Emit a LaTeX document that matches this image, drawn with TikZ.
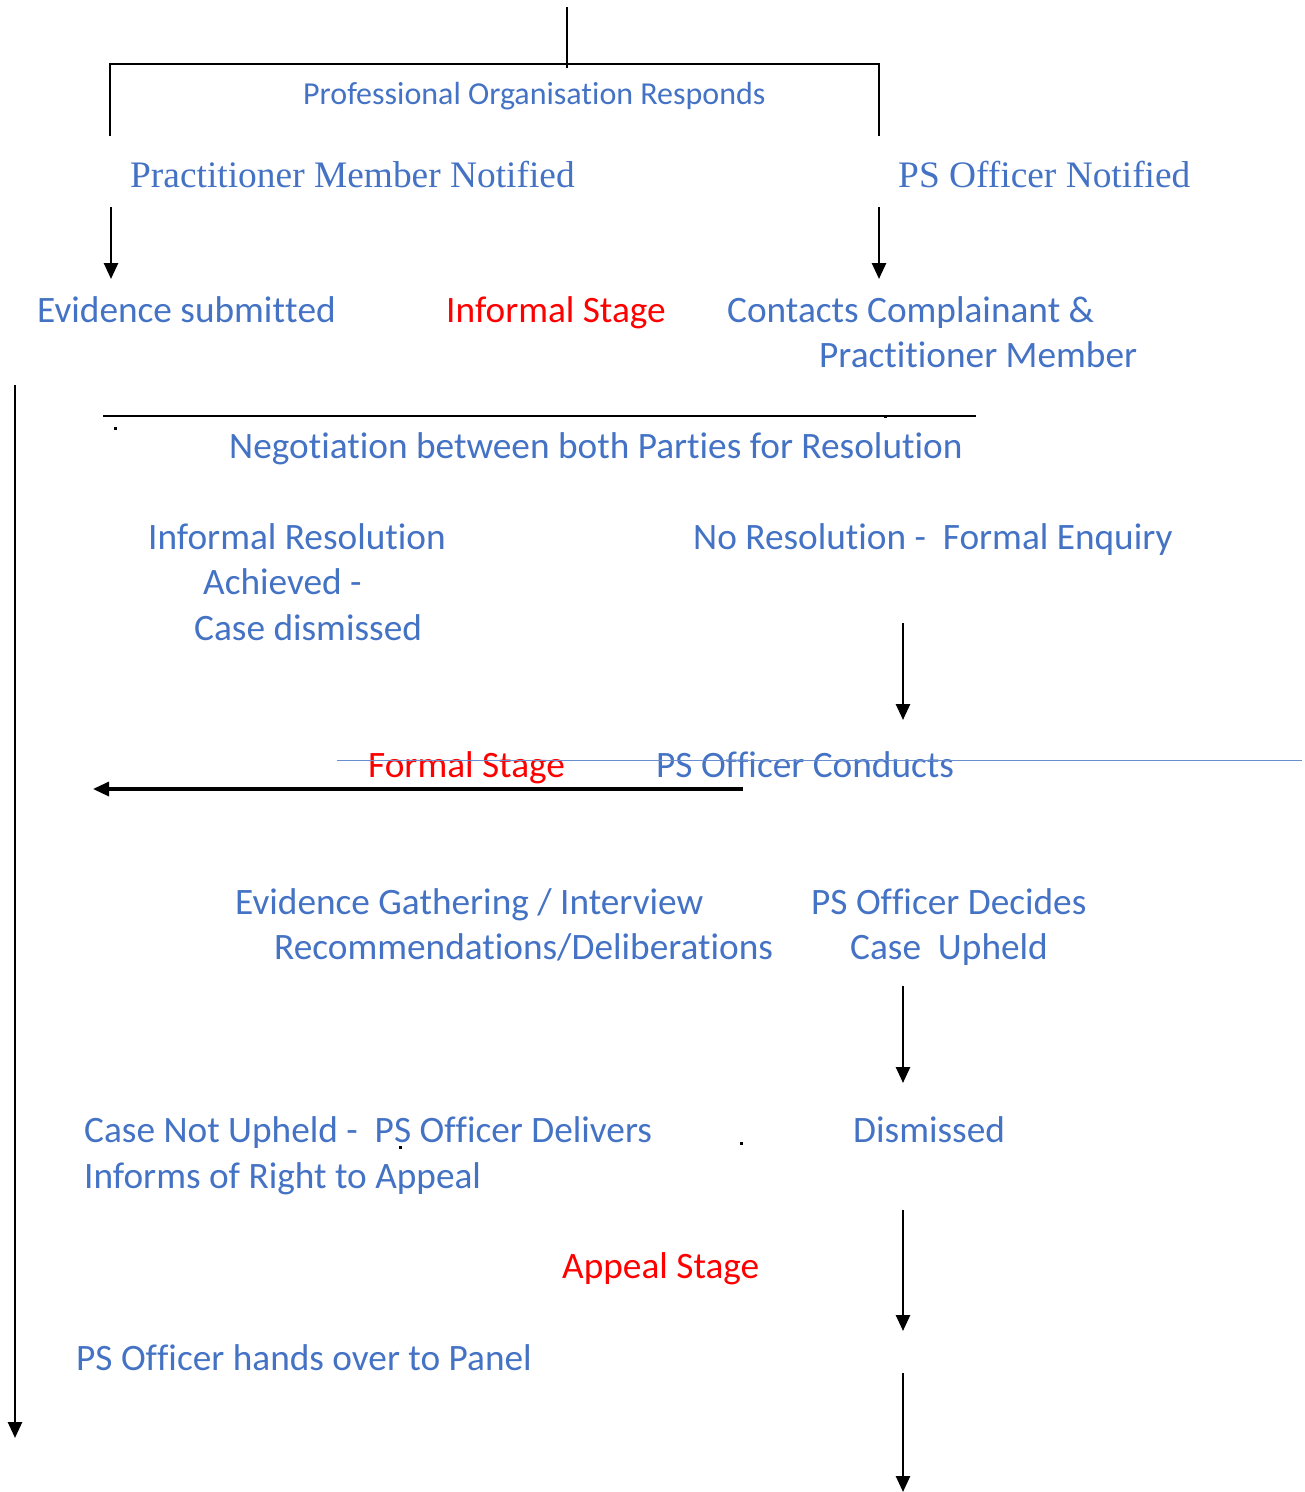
\documentclass[tikz,border=0pt]{standalone}
\usepackage{fontspec}
\setmainfont[Ligatures=NoCommon]{Carlito}
\newfontfamily\serifface{Liberation Serif}
\usetikzlibrary{arrows.meta}
\definecolor{txtblue}{HTML}{4472C4}
\definecolor{txtred}{HTML}{FF0000}
\newcommand{\nlg}{\kern0pt }
\tikzset{
  lbl/.style={inner sep=0pt, anchor=base west, text=txtblue, font=\fontsize{37.3}{45}\selectfont},
  redlbl/.style={lbl, text=txtred},
  serlbl/.style={lbl, font=\serifface\fontsize{37.4}{45}\selectfont},
  smalllbl/.style={lbl, font=\fontsize{32}{38}\selectfont},
  conn/.style={line width=2.6pt, draw=black},
  arr/.style={conn, -{Triangle[length=16pt,width=14pt]}},
  dotmark/.style={fill=black, inner sep=0pt, minimum size=3pt}
}
\begin{document}
\begin{tikzpicture}[x=1pt,y=-1pt]
\useasboundingbox (0,0) rectangle (1305,1492);
% texts
\node[smalllbl] (por) at (303,104) {Professional Organisat\nlg ion Responds};
\node[serlbl] (pmn) at (130,187) {Practitioner Member Notified};
\node[serlbl] (psn) at (898,187) {PS Officer Notified};
\node[lbl] (evs) at (37,322) {Evidence submit\nlg t\nlg ed};
\node[redlbl] (inf) at (446,322) {Informal Stage};
\node[lbl] (cc1) at (727,322) {Contacts Complainant \&};
\node[lbl] (cc2) at (819,367) {Pract\nlg it\nlg ioner Member};
\node[lbl] (neg) at (229,458) {Negot\nlg iat\nlg ion between both Part\nlg ies for Resolut\nlg ion};
\node[lbl] (ir1) at (148,549) {Informal Resolut\nlg ion};
\node[lbl] (ir2) at (203,594) {Achieved -};
\node[lbl] (ir3) at (194,640) {Case dismissed};
\node[lbl] (nr) at (693,549) {No Resolut\nlg ion -\ \ Formal Enquiry};
\node[redlbl] (fs) at (368,777) {Formal Stage};
\node[lbl] (psc) at (656,777) {PS Of\nlg f\nlg icer Conducts};
\node[lbl] (eg1) at (235,914) {Evidence Gathering / Interview};
\node[lbl] (eg2) at (274,959) {Recommendat\nlg ions/Deliberat\nlg ions};
\node[lbl] (pd1) at (811,914) {PS Of\nlg f\nlg icer Decides};
\node[lbl] (pd2) at (850,959) {Case\ \ Upheld};
\node[lbl] (dis) at (853,1142) {Dismissed};
\node[lbl] (cn1) at (84,1142) {Case Not Upheld -\ \ PS Of\nlg f\nlg icer Delivers};
\node[lbl] (cn2) at (84,1188) {Informs of Right to Appeal};
\node[redlbl] (aps) at (562,1278) {Appeal Stage};
\node[lbl] (pho) at (76,1370) {PS Of\nlg f\nlg icer hands over to Panel};
% coordinates
\coordinate (t0) at (567,7);
\coordinate (t1) at (567,68);
\coordinate (bl) at (110,136);
\coordinate (bla) at (110,64);
\coordinate (brr) at (879,64);
\coordinate (br) at (879,136);
\coordinate (a1s) at (111,207);
\coordinate (a1e) at (111,279);
\coordinate (a2s) at (879,207);
\coordinate (a2e) at (879,279);
\coordinate (ls) at (15,385);
\coordinate (le) at (15,1438);
\coordinate (h1) at (103,416);
\coordinate (h2) at (976,416);
\coordinate (a3s) at (903,623);
\coordinate (a3e) at (903,720);
\coordinate (b1) at (337,760);
\coordinate (b2) at (1302,760);
\coordinate (hs) at (743,789);
\coordinate (he) at (93,789);
\coordinate (a4s) at (903,986);
\coordinate (a4e) at (903,1083);
\coordinate (a5s) at (903,1210);
\coordinate (a5e) at (903,1331);
\coordinate (a6s) at (903,1373);
\coordinate (a6e) at (903,1492);
% lines
\draw[conn] (t0) -- (t1);
\draw[conn] (bl) -- (bla) -- (brr) -- (br);
\draw[arr] (a1s) -- (a1e);
\draw[arr] (a2s) -- (a2e);
\draw[arr] (ls) -- (le);
\draw[conn] (h1) -- (h2);
\draw[arr] (a3s) -- (a3e);
\draw[draw=txtblue!80, line width=1pt] (b1) -- (b2);
\draw[arr, line width=3.2pt] (hs) -- (he);
\draw[arr] (a4s) -- (a4e);
\draw[arr] (a5s) -- (a5e);
\draw[arr] (a6s) -- (a6e);
% stray dots
\node[dotmark] (d1) at (115,428) {};
\node[dotmark] (d2) at (885,416) {};
\node[dotmark] (d3) at (400,1147) {};
\node[dotmark] (d4) at (741,1143) {};
\end{tikzpicture}
\end{document}
